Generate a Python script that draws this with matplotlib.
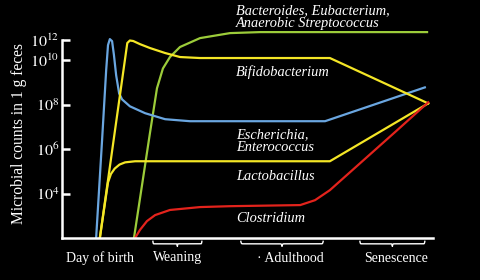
import numpy as np
import matplotlib
matplotlib.use("Agg")
from matplotlib import pyplot as plt

# x: age on an arbitrary 0-100 scale, y: log10 of microbial counts per g feces
escherichia_t = [9.2, 10.8, 11.9, 12.4, 12.9, 13.5, 14.0, 14.6, 15.4, 16.2, 18.3, 22.4, 27.8, 34.5, 70.9, 97.8]
escherichia_y = [2.0, 6.39, 9.53, 11.49, 12.09, 11.89, 10.50, 9.31, 8.50, 8.23, 7.92, 7.61, 7.34, 7.25, 7.25, 8.77]

bifido_t = [10.2, 17.6, 18.3, 19.2, 21.0, 23.7, 27.8, 31.8, 37.2, 72.2, 98.7]
bifido_y = [2.0, 11.70, 11.95, 11.90, 11.59, 11.20, 10.70, 10.30, 10.20, 10.20, 8.05]

lacto_t = [10.2, 12.4, 13.2, 14.2, 15.5, 17.0, 19.7, 72.2, 98.7]
lacto_y = [2.0, 4.50, 4.88, 5.12, 5.30, 5.40, 5.45, 5.45, 8.05]

bacteroides_t = [19.4, 23.7, 25.6, 27.2, 29.1, 31.8, 37.2, 45.3, 53.4, 98.4]
bacteroides_y = [2.0, 6.71, 8.73, 9.62, 10.30, 11.30, 12.19, 12.69, 12.79, 12.79]

clostridium_t = [19.7, 21.0, 22.9, 25.1, 29.1, 37.2, 45.3, 64.2, 68.2, 72.2, 90.3, 98.7]
clostridium_y = [2.0, 2.36, 2.76, 3.03, 3.26, 3.39, 3.43, 3.48, 3.70, 4.15, 6.84, 8.10]

tick_exp = [4, 6, 8, 10, 12]

stages = ["Weaning", "\u00b7 Adulthood", "Senescence"]
stage_spans = [(24.5, 37.7), (48.2, 70.4), (80.3, 97.8)]

BLUE = "#6aa6e0"
YELLOW = "#f4e626"
GREEN = "#9ccc3a"
RED = "#e3231c"


# the top of the axis is squeezed above 10^10
def squeeze(v):
    v = np.asarray(v, dtype=float)
    return np.where(v <= 10, v, 10 + (v - 10) * 0.45)


def unsqueeze(v):
    v = np.asarray(v, dtype=float)
    return np.where(v <= 10, v, 10 + (v - 10) / 0.45)


def brace(ax, x0, x1, ybase, h, beta=300.0):
    n = 201
    xs = np.linspace(x0, x1, n)
    u = np.linspace(0, 1, n)[: n // 2 + 1]
    half = 1 / (1 + np.exp(-beta * (u - u[0]))) + 1 / (1 + np.exp(-beta * (u - u[-1])))
    ys = np.concatenate((half, half[-2::-1]))
    ys = ybase - h * (ys - 0.5)
    ax.plot(xs, ys, color="white", lw=1.0, transform=ax.get_xaxis_transform(), clip_on=False)


plt.rcParams["mathtext.fontset"] = "stix"
serif = ["Liberation Serif", "DejaVu Serif"]

fig = plt.figure(figsize=(4.8, 2.8), dpi=100, facecolor="black")
ax = fig.add_axes([62 / 480, 42 / 280, 371 / 480, 208 / 280], facecolor="black")

ax.set_yscale("function", functions=(squeeze, unsqueeze))
ax.set_xlim(0, 100)
ax.set_ylim(2, 13)

lw = 1.6
ax.plot(bacteroides_t, bacteroides_y, color=GREEN, lw=lw)
ax.plot(escherichia_t, escherichia_y, color=BLUE, lw=lw)
ax.plot(lacto_t, lacto_y, color=YELLOW, lw=lw)
ax.plot(bifido_t, bifido_y, color=YELLOW, lw=lw)
ax.plot(clostridium_t, clostridium_y, color=RED, lw=lw)

for side in ["top", "right"]:
    ax.spines[side].set_visible(False)
for side in ["left", "bottom"]:
    ax.spines[side].set_color("white")
    ax.spines[side].set_linewidth(1.8)
ax.spines["left"].set_bounds(2, 12)

ax.set_yticks(tick_exp)
ax.set_yticklabels(["$10^{%d}$" % e for e in tick_exp])
ax.set_xticks([])
ax.tick_params(axis="y", direction="in", length=6, width=1.8, color="white",
               labelcolor="white", labelsize=11.5, pad=2)
ax.minorticks_off()

ax.set_ylabel("Microbial counts in 1 g feces", color="white", fontsize=11.2,
              family=serif, labelpad=2)

fig.text(100 / 480, 1 - 258 / 280, "Day of birth", color="white", fontsize=10,
         family=serif, ha="center", va="center")
label_x = [178, 290, 396]
for name, (a, b), lx in zip(stages, stage_spans, label_x):
    brace(ax, a, b, -0.016, 0.024)
    fig.text(lx / 480, 1 - 258 / 280, name, color="white", fontsize=10,
             family=serif, ha="center", va="center")

names = [
    ("Bacteroides, Eubacterium,\nAnaerobic Streptococcus", 17),
    ("Bifidobacterium", 72),
    ("Escherichia,\nEnterococcus", 141),
    ("Lactobacillus", 177),
    ("Clostridium", 219),
]
for txt, py in names:
    fig.text(236 / 480, 1 - py / 280, txt, color="white", fontsize=10.4,
             family=serif, style="italic", ha="left", va="center", linespacing=1.05)

fig.savefig("out.png", dpi=100, facecolor="black")
